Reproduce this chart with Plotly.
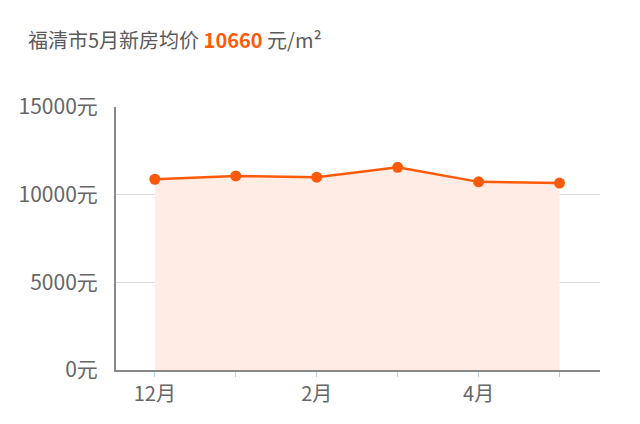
# 福清市 new-home average price, last six months
import plotly.graph_objects as go

months = ['12月', '1月', '2月', '3月', '4月', '5月']
month_labels = ['12月', '', '2月', '', '4月', '']
prices = [10880, 11070, 11000, 11560, 10730, 10660]
y_ticks = [0, 5000, 10000, 15000]
y_labels = [f'{v}元' for v in y_ticks]
current_price = 10660

FONT = 'Noto Sans CJK SC'
ORANGE = '#ff5a0a'

fig = go.Figure()

# price line with light area down to zero
fig.add_trace(go.Scatter(
    x=months,
    y=prices,
    mode='lines+markers',
    fill='tozeroy',
    fillcolor='#ffede5',
    line=dict(color=ORANGE, width=2.5),
    marker=dict(color=ORANGE, size=11),
    hoverinfo='x+y',
    showlegend=False
))

title_text = (
    '福清市5月新房均价 '
    f'<b><span style="color:{ORANGE}">{current_price}</span></b> 元/m²'
)

# page body adds an 8px margin, so the margins are shifted to compensate
fig.update_layout(
    width=640,
    height=424,
    margin=dict(l=108, r=48, t=99, b=62),
    paper_bgcolor='white',
    plot_bgcolor='white',
    font=dict(family=FONT, color='#666666', size=20),
    annotations=[dict(
        text=title_text,
        xref='paper', yref='paper',
        x=-0.185, y=1.255,
        xanchor='left', yanchor='middle',
        showarrow=False,
        font=dict(family=FONT, size=20, color='#5a5a5a')
    )]
)

fig.update_xaxes(
    type='category',
    range=[-0.48, 5.5],
    tickvals=months,
    ticktext=month_labels,
    showgrid=False,
    showline=True,
    linecolor='#888888',
    linewidth=2,
    ticks='outside',
    ticklen=5,
    tickcolor='#b5cde6',
    tickfont=dict(size=20, color='#666666'),
    fixedrange=True
)

fig.update_yaxes(
    range=[0, 15000],
    tickvals=y_ticks,
    ticktext=y_labels,
    showgrid=True,
    gridcolor='#d9d9d9',
    gridwidth=1,
    zeroline=False,
    showline=True,
    linecolor='#888888',
    linewidth=2,
    ticks='',
    ticklabelstandoff=12,
    tickfont=dict(size=21, color='#666666'),
    fixedrange=True
)

fig.write_html('out.html')
